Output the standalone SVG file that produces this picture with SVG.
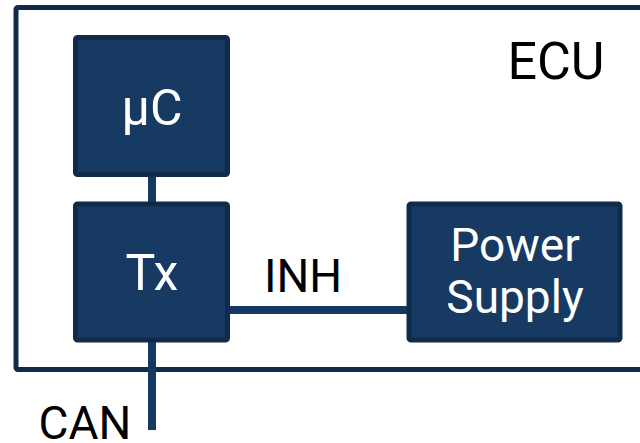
<svg xmlns="http://www.w3.org/2000/svg" width="640" height="443" viewBox="0 0 640 443">
<style>
.box{fill:#173a63;stroke:#0f2a4a;stroke-width:5}
.wire{stroke:#153862;stroke-width:8;fill:none}
.lbl{font-family:Roboto,"Liberation Sans",sans-serif;font-size:46px;fill:#fff;text-anchor:middle}
.ext{font-family:Roboto,"Liberation Sans",sans-serif;font-size:46px;fill:#000;text-anchor:middle}
</style>
<rect width="640" height="443" fill="#fff"/>
<g id="ecu">
<rect x="16" y="7.5" width="640" height="362" fill="none" stroke="#0f2a4a" stroke-width="5" rx="2"/>
<text class="ext" x="556" y="79" style="font-size:52px">ECU</text>
</g>
<g id="connectors">
<line class="wire" x1="152" y1="176" x2="152" y2="202"/>
<line class="wire" x1="230" y1="310" x2="407" y2="310"/>
<line class="wire" x1="152" y1="342" x2="152" y2="430"/>
<text class="ext" x="303" y="292">INH</text>
<text class="ext" x="85" y="439">CAN</text>
</g>
<g id="uc">
<rect class="box" x="75.5" y="37.5" width="152" height="137" rx="2"/>
<text class="lbl" x="152" y="125" style="font-size:50px">µC</text>
</g>
<g id="tx">
<rect class="box" x="75.5" y="204" width="152" height="136" rx="2"/>
<text class="lbl" x="152" y="290" style="font-size:50px">Tx</text>
</g>
<g id="ps">
<rect class="box" x="409" y="204" width="211" height="136" rx="2"/>
<text class="lbl" x="515" y="261">Power</text>
<text class="lbl" x="515" y="313">Supply</text>
</g>
</svg>
